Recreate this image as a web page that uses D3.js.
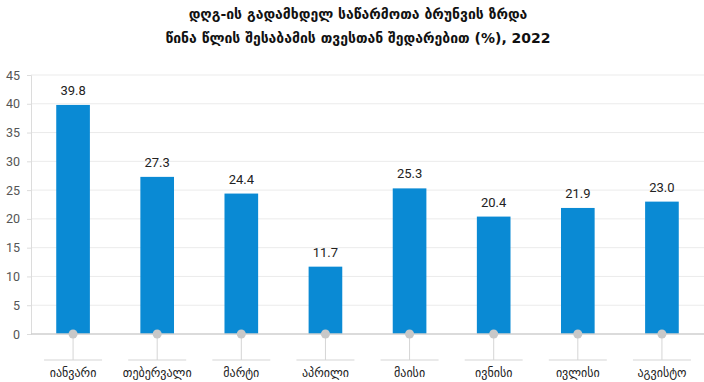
<!DOCTYPE html>
<html>
<head>
<meta charset="utf-8">
<script src="https://cdn.jsdelivr.net/npm/d3@7"></script>
<style>
  body { margin: 0; background: white; }
  svg { display: block; font-family: "DejaVu Sans", "Noto Sans", sans-serif; }
</style>
</head>
<body>
<script>
let months = ["იანვარი", "თებერვალი", "მარტი", "აპრილი", "მაისი", "ივნისი", "ივლისი", "აგვისტო"]
let growth = [39.8, 27.3, 24.4, 11.7, 25.3, 20.4, 21.9, 23.0]
let yTicks = [0, 5, 10, 15, 20, 25, 30, 35, 40, 45]
let titleLines = ["დღგ-ის გადამხდელ საწარმოთა ბრუნვის ზრდა",
    "წინა წლის შესაბამის თვესთან შედარებით (%), 2022"]

function main(){
    const width = 704
    const height = 382

    let svg = d3.select("body")
        .append('svg')
        .attr('width', width)
        .attr('height', height)

    let xScale = d3.scaleBand()
        .domain(months)
        .range([31, 704])
        .paddingInner(0.6)
        .paddingOuter(0.3)
    let yScale = d3.scaleLinear()
        .domain([0, 45])
        .range([334, 75])

    // grid
    svg.append('g')
        .selectAll('line')
        .data(yTicks.filter(d => d > 0))
        .enter()
        .append('line')
        .attr('x1', 31)
        .attr('x2', width)
        .attr('y1', d => yScale(d))
        .attr('y2', d => yScale(d))
        .attr('stroke', '#ebebeb')

    let yAxis = svg.append('g')
        .attr('transform', 'translate(31,0)')
        .call(d3.axisLeft(yScale).tickValues(yTicks).tickSize(4).tickPadding(7))
    yAxis.select('.domain').attr('stroke', '#dcdcdc')
    yAxis.selectAll('.tick line').attr('stroke', '#dcdcdc')
    yAxis.selectAll('text')
        .attr('fill', '#555')
        .attr('font-size', '12.5px')
        .attr('font-family', 'Roboto, "DejaVu Sans", sans-serif')

    // bars
    svg.append('g')
        .selectAll('rect')
        .data(growth)
        .enter()
        .append('rect')
        .attr('x', (d, i) => xScale(months[i]))
        .attr('y', d => yScale(d))
        .attr('width', xScale.bandwidth())
        .attr('height', d => yScale(0) - yScale(d))
        .attr('fill', '#0a8ad4')

    // baseline
    svg.append('line')
        .attr('x1', 31)
        .attr('x2', width)
        .attr('y1', yScale(0))
        .attr('y2', yScale(0))
        .attr('stroke', '#cfcfcf')
        .attr('stroke-width', 1.5)

    // value labels
    svg.append('g')
        .selectAll('text')
        .data(growth)
        .enter()
        .append('text')
        .attr('x', (d, i) => xScale(months[i]) + xScale.bandwidth() / 2)
        .attr('y', d => yScale(d) - 10)
        .attr('text-anchor', 'middle')
        .attr('font-size', '13px')
        .attr('font-family', 'Roboto, "DejaVu Sans", sans-serif')
        .attr('fill', '#222')
        .text(d => d.toFixed(1))

    // category pins and labels
    let cats = svg.append('g')
        .selectAll('g')
        .data(months)
        .enter()
        .append('g')
        .attr('transform', d => `translate(${xScale(d) + xScale.bandwidth() / 2},0)`)
    cats.append('line')
        .attr('x1', 0).attr('x2', 0)
        .attr('y1', yScale(0)).attr('y2', 360)
        .attr('stroke', '#d5d5d5')
    cats.append('line')
        .attr('x1', -29).attr('x2', 29)
        .attr('y1', 360).attr('y2', 360)
        .attr('stroke', '#d5d5d5')
    cats.append('circle')
        .attr('cx', 0)
        .attr('cy', yScale(0))
        .attr('r', 4.5)
        .attr('fill', '#c8c8c8')
    cats.append('text')
        .attr('y', 377)
        .attr('text-anchor', 'middle')
        .attr('font-size', '12px')
        .attr('fill', '#222')
        .text(d => d)

    // title
    svg.append('g')
        .selectAll('text')
        .data(titleLines)
        .enter()
        .append('text')
        .attr('x', 358)
        .attr('y', (d, i) => 19 + i * 24)
        .attr('text-anchor', 'middle')
        .attr('font-size', '14px')
        .attr('font-weight', 'bold')
        .attr('fill', '#111')
        .text(d => d)
}

main()
</script>
</body>
</html>
